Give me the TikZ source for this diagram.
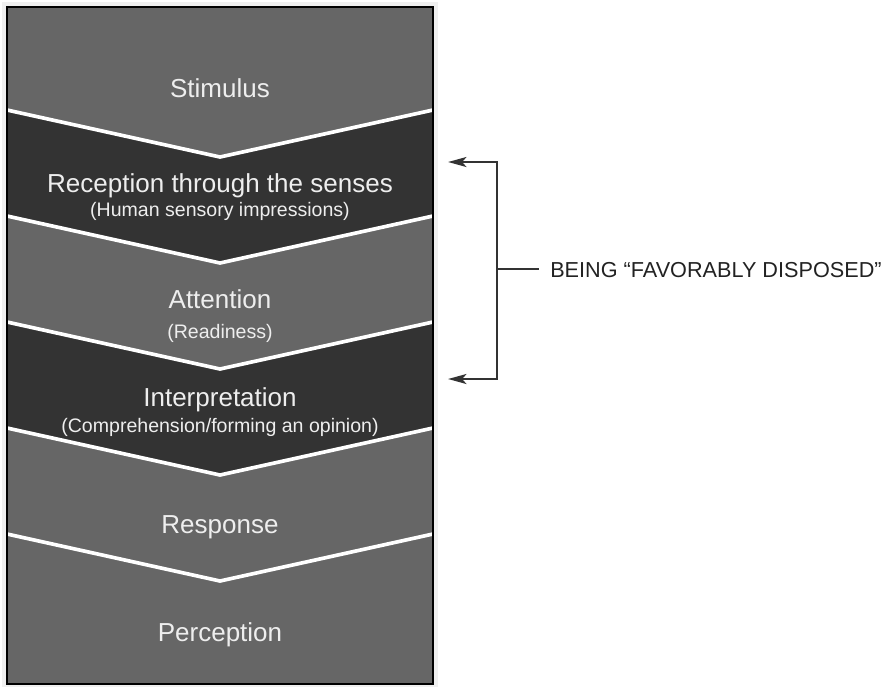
\documentclass[tikz,border=0pt]{standalone}
\usepackage{fontspec}
\setmainfont{Liberation Sans}
\usetikzlibrary{arrows.meta}
\definecolor{stagegray}{HTML}{666666}
\definecolor{stagedark}{HTML}{333333}
\definecolor{stagetext}{HTML}{EEEEEE}
\definecolor{framegray}{HTML}{F0F0F0}
\definecolor{labelgray}{HTML}{222222}

\begin{document}
\begin{tikzpicture}[x=0.025cm,y=-0.025cm,
    stage/.style={text=stagetext,font=\fontsize{18.5}{22}\selectfont,anchor=base,inner sep=0pt},
    stagesub/.style={text=stagetext,font=\fontsize{13.9}{16}\selectfont,anchor=base,inner sep=0pt},
    chevron/.style={draw=white,line width=2.6pt},
    bracket/.style={draw=stagedark,line width=2pt}]
        \useasboundingbox (0,0) rectangle (892,687);
        \fill [framegray] (2,2) rectangle (438,687);
        \fill [stagegray] (7,7) rectangle (433,684);
        % dark bands
        \foreach \t/\b in {110/216,322/428}
          \fill [stagedark] (7,\t) -- (220,\t+47) -- (433,\t) -- (433,\b) -- (220,\b+47) -- (7,\b) -- cycle;
        \foreach \t in {110,216,322,428,534}
          \draw [chevron] (7,\t) -- (220,\t+47) -- (433,\t);
        \draw [line width=1.4pt] (7,7) rectangle (433,684);
      \node [stage] (stim) at (220,97) {Stimulus};
      \node [stage] (recep) at (220,192) {Reception through the senses};
      \node [stagesub] (recepsub) at (220,216) {(Human sensory impressions)};
      \node [stage] (atten) at (220,308) {Attention};
      \node [stagesub] (attensub) at (220,338) {(Readiness)};
      \node [stage] (interp) at (220,406) {Interpretation};
      \node [stagesub] (interpsub) at (220,432) {(Comprehension/forming an opinion)};
      \node [stage] (resp) at (220,533) {Response};
      \node [stage] (percep) at (220,641) {Perception};
      % bracket
      \coordinate (recepin) at (448,162);
      \coordinate (interpin) at (448,379);
      \coordinate (topcorner) at (497,162);
      \coordinate (botcorner) at (497,379);
      \coordinate (midcorner) at (497,269);
      \node [anchor=base west,inner sep=0pt,inner xsep=0.275cm,text=labelgray,
             font=\fontsize{15.4}{18}\selectfont] (favor) at (539,277) {BEING “FAVORABLY DISPOSED”};
      \draw [bracket,{Stealth[length=13pt,width=7pt,inset=3pt]}-{Stealth[length=13pt,width=7pt,inset=3pt]}]
        (recepin) -- (topcorner) -- (botcorner) -- (interpin);
      \draw [bracket] (midcorner) -- (midcorner -| favor.west);
    \end{tikzpicture}
\end{document}
